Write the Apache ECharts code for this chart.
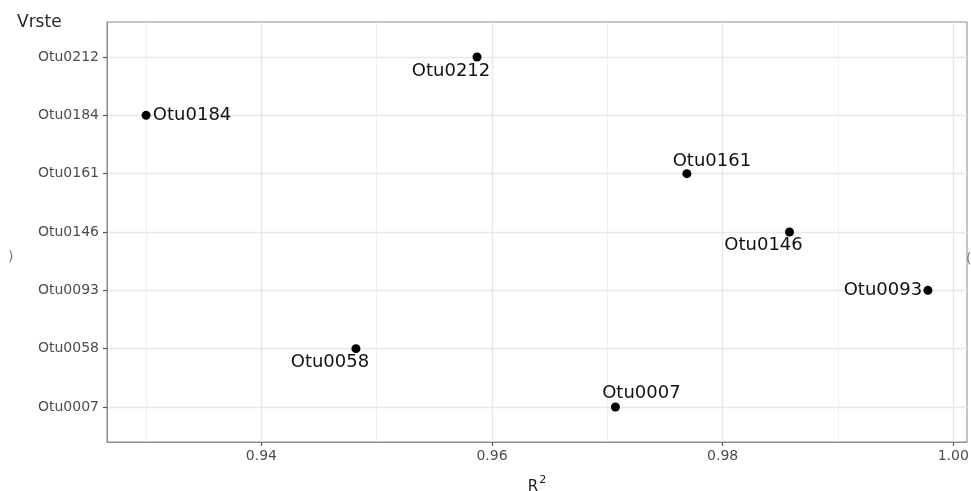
<!DOCTYPE html>
<html><head><meta charset="utf-8">
<script src="https://cdn.jsdelivr.net/npm/echarts@6/dist/echarts.min.js"></script>
<style>html,body{margin:0;padding:0;background:#fff}#c{width:971px;height:491px}</style>
</head><body><div id="c"></div>
<script>
const categories = ['Otu0007','Otu0058','Otu0093','Otu0146','Otu0161','Otu0184','Otu0212'];
const r2Values = [0.9707, 0.9482, 0.9978, 0.9858, 0.9769, 0.9300, 0.9587];
const xMajorTicks = [0.94, 0.96, 0.98, 1.00];
const xMinorTicks = [0.93, 0.95, 0.97, 0.99];
const yTickValues = categories.map((c, i) => i);
const labelOffsets = [[26,-14],[-26,14],[-45,0],[-26,13],[25,-12],[46,0],[-26,14]];

const lo = Math.min(...r2Values), hi = Math.max(...r2Values);
const pad = (hi - lo) * 0.05;
const xMin = lo - pad, xMax = hi + pad;

const chart = echarts.init(document.getElementById('c'), null, {renderer: 'canvas'});
const font = 'DejaVu Sans';
chart.setOption({
  animation: false,
  backgroundColor: '#fff',
  grid: {left: 107, right: 4, top: 22, bottom: 49, show: true, borderColor: '#8a8a8a', borderWidth: 1,
         backgroundColor: 'transparent', containLabel: false, outerBoundsMode: 'none'},
  xAxis: [{
    type: 'value', min: xMin, max: xMax, position: 'bottom',
    axisLine: {show: true, onZero: false, lineStyle: {color: '#8a8a8a', width: 1}},
    axisTick: {show: true, inside: false, length: 4, customValues: xMajorTicks, lineStyle: {color: '#555', width: 1.2}},
    axisLabel: {customValues: xMajorTicks, formatter: v => v.toFixed(2), color: '#4d4d4d', fontSize: 14, fontFamily: font, margin: 7},
    splitLine: {show: true, lineStyle: {color: '#e8e8e8', width: 1.4}},
    name: '{r|R}{s|2}', nameLocation: 'middle', nameGap: 33,
    nameTextStyle: {rich: {
      r: {fontSize: 15, fontFamily: font, color: '#1a1a1a', verticalAlign: 'bottom', lineHeight: 20},
      s: {fontSize: 11, fontFamily: font, color: '#1a1a1a', verticalAlign: 'top', lineHeight: 20, padding: [0,0,14,1]}
    }}
  }, {
    type: 'value', min: xMin, max: xMax, position: 'bottom',
    axisLine: {show: false, onZero: false},
    axisTick: {show: false, customValues: xMinorTicks},
    axisLabel: {show: false},
    splitLine: {show: true, lineStyle: {color: '#f0f0f0', width: 1}}
  }],
  yAxis: {
    type: 'value', min: -0.6, max: categories.length - 1 + 0.6,
    axisLine: {show: true, onZero: false, lineStyle: {color: '#8a8a8a', width: 1}},
    axisTick: {show: true, inside: false, length: 4, customValues: yTickValues, lineStyle: {color: '#555', width: 1.2}},
    axisLabel: {customValues: yTickValues, formatter: v => categories[Math.round(v)], color: '#4d4d4d', fontSize: 14, fontFamily: font, margin: 8},
    splitLine: {show: true, lineStyle: {color: '#e8e8e8', width: 1.4}}
  },
  graphic: [
    {type: 'text', left: 17, top: 14, style: {text: 'Vrste', fontSize: 17, fontFamily: font, fill: '#262626'}},
    {type: 'text', left: 8, top: 250, style: {text: ')', fontSize: 14, fontFamily: font, fill: '#777'}},
    {type: 'text', left: 966, top: 252, style: {text: '(', fontSize: 14, fontFamily: font, fill: '#777'}}
  ],
  series: [{
    type: 'scatter', xAxisIndex: 0, symbolSize: 9,
    itemStyle: {color: '#000', opacity: 1},
    data: r2Values.map((v, i) => ({value: [v, i], label: {offset: labelOffsets[i]}})),
    label: {
      show: true, position: 'inside', align: 'center', verticalAlign: 'middle',
      formatter: p => categories[p.dataIndex],
      fontSize: 18, fontFamily: font, color: '#111'
    },
    emphasis: {disabled: true}
  }]
});
</script></body></html>
